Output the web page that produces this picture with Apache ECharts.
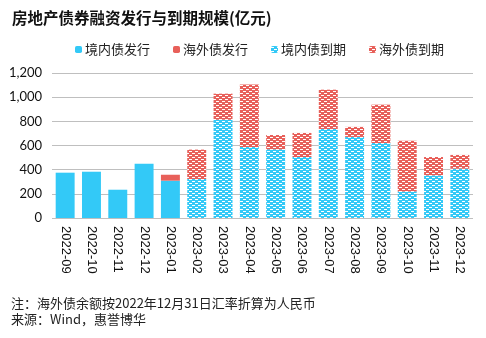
<!DOCTYPE html>
<html><head><meta charset="utf-8">
<script src="https://cdn.jsdelivr.net/npm/echarts@6/dist/echarts.min.js"></script>
<style>html,body{margin:0;padding:0;background:#fff}#c{width:486px;height:338px}</style>
</head><body><div id="c"></div>
<script>
const categories = ['2022-09','2022-10','2022-11','2022-12','2023-01','2023-02','2023-03','2023-04','2023-05','2023-06','2023-07','2023-08','2023-09','2023-10','2023-11','2023-12'];
const domesticIssue = [375,383,234,450,309,'-','-','-','-','-','-','-','-','-','-','-'];
const overseasIssue = ['-','-','-','-',49,'-','-','-','-','-','-','-','-','-','-','-'];
const domesticMature = ['-','-','-','-','-',323,813,588,568,505,737,671,621,220,353,408];
const overseasMature = ['-','-','-','-','-',243,216,516,119,199,325,83,317,420,152,114];
const seriesNames = ['境内债发行','海外债发行','境内债到期','海外债到期'];
const yTicks = [0,200,400,600,800,1000,1200];

const BLUE = '#33C9F7', RED = '#E8605A';
function pattern(color){
  const c = document.createElement('canvas'); c.width = 6; c.height = 4;
  const g = c.getContext('2d');
  g.fillStyle = color; g.fillRect(0,0,6,4);
  g.fillStyle = '#fff';
  g.fillRect(0,1,3,1);
  g.fillRect(3,3,3,1);
  return {image: c, repeat: 'repeat'};
}
const chart = echarts.init(document.getElementById('c'), null, {renderer:'canvas'});
const cjk = '"Noto Sans CJK SC", sans-serif';
function bar(name, data, color){
  return {name, type:'bar', stack:'all', data, barWidth:'72%', itemStyle:{color}, emphasis:{disabled:true}};
}
chart.setOption({
  animation:false,
  title:{text:'房地产债券融资发行与到期规模(亿元)', left:7, top:5,
    textStyle:{fontFamily:cjk, fontSize:15.5, fontWeight:'bold', color:'#111'}},
  legend:{left:70, top:38, itemWidth:7, itemHeight:7, itemGap:23,
    textStyle:{fontFamily:cjk, fontSize:13, color:'#222', padding:[0,0,0,-2]},
    data:seriesNames},
  grid:{left:52, right:13, top:73, bottom:120, containLabel:false},
  xAxis:{type:'category', data:categories,
    axisLine:{show:false}, axisTick:{show:false},
    axisLabel:{rotate:-90, interval:0, fontFamily:'"Liberation Sans", Arial', fontSize:13, color:'#111', margin:8}},
  yAxis:{type:'value', min:yTicks[0], max:yTicks[yTicks.length-1], interval:200,
    axisLine:{show:false}, axisTick:{show:false},
    splitLine:{lineStyle:{color:'#BFBFBF', width:1}},
    axisLabel:{fontFamily:'Lato, sans-serif', fontSize:13, color:'#111', margin:10,
      formatter:v=>v.toLocaleString('en-US')}},
  graphic:[
    {type:'text', left:11, top:297, style:{text:'注：海外债余额按2022年12月31日汇率折算为人民币', font:'13px '+cjk, fill:'#222'}},
    {type:'text', left:11, top:313, style:{text:'来源：Wind，惠誉博华', font:'13px '+cjk, fill:'#222'}}
  ],
  series:[
    bar(seriesNames[0], domesticIssue, BLUE),
    bar(seriesNames[1], overseasIssue, RED),
    bar(seriesNames[2], domesticMature, pattern(BLUE)),
    bar(seriesNames[3], overseasMature, pattern(RED))
  ]
});
</script></body></html>
